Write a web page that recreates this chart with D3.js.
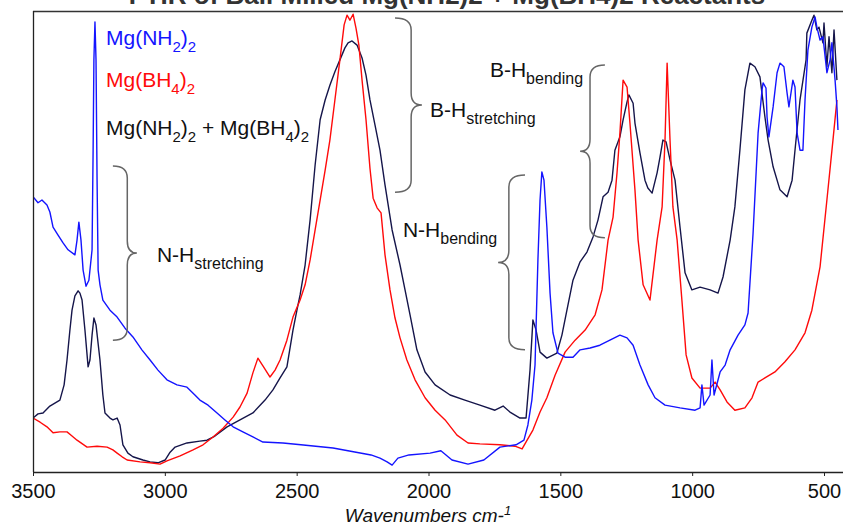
<!DOCTYPE html>
<html>
<head>
<meta charset="utf-8">
<script src="https://cdn.jsdelivr.net/npm/d3@7/dist/d3.min.js"></script>
<style>
  html, body { margin: 0; padding: 0; background: #fff; }
  svg { display: block; font-family: "Liberation Sans", Arial, sans-serif; }
</style>
</head>
<body>
<svg id="chart" width="843" height="526"></svg>
<script>
// FTIR spectra, wavenumber (cm-1) vs. relative intensity (arbitrary units, 0-100)
const mixSpectrum = [ // Mg(NH2)2 + Mg(BH4)2
  [3500,11.7],[3481,12.6],[3462,12.8],[3436,14.3],[3398,15.6],[3382,18.9],[3371,24.3],[3360,30.8],
  [3352,35.1],[3341,38.2],[3329,39.3],[3322,38.8],[3314,37.3],[3303,30.8],[3291,22.8],[3284,24.3],
  [3276,29.7],[3269,33.4],[3261,31.9],[3246,24.3],[3235,16.7],[3227,12.8],[3208,11.7],[3197,11.3],
  [3181,11.7],[3170,10.2],[3159,5.9],[3140,4.1],[3121,3.3],[3083,2.6],[3056,2.2],[3026,2.0],
  [2999,2.6],[2980,4.3],[2961,5.4],[2916,6.3],[2867,6.7],[2840,6.9],[2810,7.8],[2764,9.8],
  [2715,11.3],[2666,12.8],[2620,15.6],[2590,17.8],[2563,20.4],[2537,22.8],[2514,30.8],[2499,35.1],
  [2487,38.4],[2468,44.9],[2449,54.7],[2430,66.6],[2411,76.4],[2392,80.7],[2374,83.9],[2355,86.8],
  [2336,89.4],[2317,92.0],[2305,93.1],[2290,93.5],[2271,92.6],[2252,89.8],[2237,86.1],[2222,80.7],
  [2203,75.3],[2184,69.8],[2165,62.3],[2138,52.5],[2108,44.9],[2089,39.5],[2070,34.1],[2044,26.5],
  [2013,21.7],[1975,18.9],[1918,16.7],[1862,15.6],[1805,14.5],[1748,13.4],[1717,14.3],[1691,13.0],
  [1653,11.7],[1630,11.7],[1615,22.1],[1604,33.0],[1592,30.8],[1577,26.0],[1551,24.7],[1513,25.8],
  [1494,29.7],[1475,35.1],[1452,41.6],[1425,45.6],[1399,47.7],[1376,51.0],[1357,54.7],[1338,59.7],
  [1319,60.7],[1304,63.3],[1293,69.8],[1274,72.7],[1262,76.4],[1247,80.3],[1240,81.8],[1224,80.0],
  [1217,75.7],[1198,69.2],[1179,63.3],[1168,61.6],[1152,60.5],[1133,64.9],[1122,68.3],[1111,72.0],
  [1099,71.6],[1084,67.7],[1065,63.3],[1046,53.1],[1027,43.2],[1001,39.5],[970,40.1],[932,39.5],
  [902,38.8],[883,42.3],[856,50.3],[838,57.5],[819,69.8],[800,82.9],[781,88.7],[762,87.9],
  [743,85.7],[724,77.0],[712,72.0],[693,66.2],[667,61.2],[640,59.7],[621,63.3],[610,69.8],
  [591,80.7],[568,89.4],[565,95.2],[546,98.0],[538,99.1],[527,95.9],[519,96.5],[504,93.1],
  [500,97.4],[489,87.9],[481,94.4],[470,86.6],[462,95.9],[451,85.0]
];

const bh4Spectrum = [ // Mg(BH4)2
  [3500,11.7],[3473,10.8],[3447,9.8],[3424,8.5],[3398,8.7],[3371,8.7],[3352,7.8],[3333,6.9],
  [3295,5.4],[3257,5.6],[3219,5.4],[3197,4.8],[3181,4.1],[3162,3.3],[3143,2.6],[3094,2.2],
  [3056,2.0],[3018,1.7],[2992,2.4],[2942,3.5],[2893,4.8],[2855,5.9],[2817,7.6],[2779,9.5],
  [2741,11.9],[2715,14.1],[2688,17.1],[2666,21.5],[2647,24.7],[2628,23.0],[2601,20.6],[2582,22.1],
  [2563,24.3],[2537,28.6],[2514,33.6],[2487,37.3],[2468,40.6],[2449,46.0],[2430,52.5],[2411,59.0],
  [2392,65.5],[2374,72.0],[2355,80.7],[2336,89.4],[2320,97.0],[2309,99.1],[2298,98.0],[2286,99.3],
  [2275,96.3],[2264,92.6],[2252,85.0],[2237,76.4],[2222,65.9],[2210,59.4],[2195,57.3],[2180,56.2],
  [2165,47.1],[2146,39.5],[2127,33.4],[2108,29.1],[2082,24.3],[2051,20.0],[2013,16.1],[1975,13.4],
  [1937,11.3],[1892,8.0],[1850,6.3],[1805,6.1],[1729,5.9],[1672,5.6],[1645,5.0],[1626,6.9],
  [1604,9.1],[1577,13.0],[1551,16.1],[1520,21.0],[1482,26.0],[1444,28.6],[1406,30.8],[1368,34.1],
  [1342,39.5],[1319,50.3],[1300,55.3],[1285,64.9],[1274,73.5],[1262,85.0],[1247,83.5],[1236,75.7],
  [1217,61.2],[1205,50.3],[1186,40.6],[1160,37.3],[1133,50.3],[1114,57.5],[1103,72.0],[1095,88.7],
  [1084,72.0],[1073,57.5],[1057,50.3],[1039,37.3],[1023,25.4],[1001,20.4],[970,18.2],[932,18.2],
  [913,19.5],[894,17.8],[868,15.2],[838,13.4],[800,13.9],[773,16.1],[750,19.5],[724,20.4],
  [686,21.7],[648,23.9],[610,26.5],[572,30.2],[546,35.1],[515,44.5],[489,59.0],[466,72.0],
  [451,80.7]
];

const nh2Spectrum = [ // Mg(NH2)2
  [3500,59.7],[3481,58.4],[3466,59.0],[3447,57.9],[3436,56.4],[3424,53.1],[3405,51.4],[3386,49.7],
  [3367,48.2],[3341,47.1],[3333,50.3],[3326,54.2],[3318,50.3],[3310,43.8],[3299,40.3],[3288,41.6],
  [3276,48.2],[3272,69.8],[3269,89.4],[3265,97.6],[3261,89.4],[3257,63.3],[3253,43.8],[3246,40.6],
  [3235,37.3],[3208,35.1],[3181,33.6],[3151,31.2],[3121,29.3],[3087,26.5],[3056,24.3],[3026,22.1],
  [2992,20.0],[2954,18.9],[2916,18.4],[2886,16.7],[2867,15.6],[2836,14.5],[2802,12.8],[2772,11.3],
  [2741,9.8],[2704,8.7],[2666,7.6],[2628,6.5],[2552,6.3],[2484,5.9],[2362,5.2],[2218,3.7],
  [2184,3.0],[2157,2.2],[2138,1.5],[2116,3.0],[2074,3.7],[1994,4.1],[1953,4.6],[1911,2.6],
  [1850,1.7],[1790,2.6],[1729,5.4],[1668,5.9],[1638,6.9],[1623,10.2],[1608,15.6],[1596,23.2],
  [1585,46.0],[1577,59.0],[1570,65.1],[1562,63.3],[1551,53.1],[1539,38.8],[1528,30.2],[1509,25.8],
  [1482,24.9],[1452,24.9],[1425,26.5],[1387,26.9],[1350,27.5],[1312,28.6],[1274,29.7],[1247,29.1],
  [1224,27.5],[1198,23.2],[1167,18.9],[1141,16.1],[1103,14.5],[1046,13.9],[989,13.4],[970,13.9],
  [963,18.9],[955,14.5],[932,16.7],[925,24.3],[917,16.7],[894,21.7],[875,23.2],[856,26.5],
  [826,29.7],[800,31.9],[788,34.5],[769,51.8],[750,73.5],[735,82.9],[731,84.4],[720,83.3],
  [716,77.0],[709,72.7],[693,79.2],[678,86.6],[667,88.7],[652,87.9],[640,82.2],[633,79.2],
  [618,85.0],[610,83.5],[602,73.5],[591,69.8],[580,69.8],[572,80.7],[561,91.5],[546,96.5],
  [534,98.7],[527,96.5],[515,93.7],[504,94.4],[489,86.6],[477,89.4],[470,93.1],[458,85.0],
  [451,79.2],[447,74.2]
];

const xTicks = [3500, 3000, 2500, 2000, 1500, 1000, 500];

// Band assignments: brace from hook wavenumber to tip wavenumber, spanning top..bottom intensity
const bands = [
  { main: "N-H", sub: "stretching", hook: 3197, tip: 3106, top: 66.4, bottom: 28.6, lx: 3030, ly: 45.6 },
  { main: "B-H", sub: "stretching", hook: 2127, tip: 2025, top: 98.5, bottom: 60.7, lx: 1994, ly: 77.0 },
  { main: "N-H", sub: "bending",    hook: 1634, tip: 1736, top: 64.4, bottom: 26.5, lx: 2097, ly: 51.0 },
  { main: "B-H", sub: "bending",    hook: 1331, tip: 1425, top: 88.3, bottom: 50.8, lx: 1767, ly: 85.7 }
];

const series = [
  { data: mixSpectrum, color: "#15154a" },
  { data: bh4Spectrum, color: "#ff0a0a" },
  { data: nh2Spectrum, color: "#1414ff" }
];

const legendItems = [
  { parts: [["Mg(NH", 0], ["2", 1], [")", 0], ["2", 1]], color: "#1414ff" },
  { parts: [["Mg(BH", 0], ["4", 1], [")", 0], ["2", 1]], color: "#ff0a0a" },
  { parts: [["Mg(NH", 0], ["2", 1], [")", 0], ["2", 1], [" + Mg(BH", 0], ["4", 1], [")", 0], ["2", 1]], color: "#111" }
];

const W = 843, H = 526;
const margin = { left: 33, top: 11, right: 0, bottom: 54 };
const plotR = W - margin.right, plotB = H - margin.bottom;

const svg = d3.select("#chart");

// x runs from high to low wavenumber
const x = d3.scaleLinear().domain([3500, 500]).range([margin.left, 824]);
const y = d3.scaleLinear().domain([0, 100]).range([plotB, margin.top]);

// Page title (sits above the frame, mostly outside the page)
svg.append("text")
  .attr("x", 447).attr("y", 4)
  .attr("text-anchor", "middle")
  .attr("font-size", 26).attr("font-weight", "bold").attr("fill", "#333")
  .text("FTIR of Ball Milled Mg(NH2)2 + Mg(BH4)2 Reactants");

svg.append("defs").append("clipPath").attr("id", "plotclip")
  .append("rect").attr("x", margin.left).attr("y", margin.top)
  .attr("width", plotR - margin.left).attr("height", plotB - margin.top);

// Spectra
const line = d3.line().x(d => x(d[0])).y(d => y(d[1]));
const g = svg.append("g").attr("clip-path", "url(#plotclip)");
series.forEach(s => {
  g.append("path").datum(s.data)
    .attr("d", line)
    .attr("fill", "none")
    .attr("stroke", s.color)
    .attr("stroke-width", 1.4)
    .attr("stroke-linejoin", "round");
});

// Frame: top and left lines
svg.append("line").attr("x1", margin.left).attr("x2", plotR)
  .attr("y1", margin.top + 0.5).attr("y2", margin.top + 0.5)
  .attr("stroke", "#333").attr("stroke-width", 1.3);
svg.append("line").attr("x1", margin.left + 0.5).attr("x2", margin.left + 0.5)
  .attr("y1", margin.top).attr("y2", plotB)
  .attr("stroke", "#222").attr("stroke-width", 1.3);

// Bottom axis
const xAxis = d3.axisBottom(x).tickValues(xTicks).tickFormat(d3.format("d"))
  .tickSize(4).tickSizeOuter(0).tickPadding(8);
const ax = svg.append("g").attr("transform", `translate(0,${plotB})`).call(xAxis);
ax.select(".domain").attr("stroke", "#222").attr("stroke-width", 1.3)
  .attr("d", `M${margin.left},0.5H${plotR}`);
ax.selectAll(".tick line").attr("stroke", "#222");
ax.selectAll(".tick text")
  .attr("font-size", 20).attr("fill", "#111")
  .attr("font-family", "Liberation Sans, Arial, sans-serif");

// Axis title with superscript
const at = svg.append("text")
  .attr("x", 428).attr("y", 522)
  .attr("text-anchor", "middle")
  .attr("font-size", 19).attr("font-style", "italic").attr("fill", "#111");
at.append("tspan").text("Wavenumbers cm-");
at.append("tspan").attr("font-size", 13).attr("dy", -7).text("1");

// Legend (stacked coloured labels)
const legendY = [45, 87, 135];
legendItems.forEach((item, i) => {
  const t = svg.append("text")
    .attr("x", 106).attr("y", legendY[i])
    .attr("font-size", 21).attr("fill", item.color);
  let shifted = false;
  item.parts.forEach(([txt, sub]) => {
    const ts = t.append("tspan").text(txt);
    if (sub && !shifted) { ts.attr("dy", 7).attr("font-size", 15); shifted = true; }
    else if (sub) { ts.attr("font-size", 15); }
    else if (!sub && shifted) { ts.attr("dy", -7); shifted = false; }
  });
});

// Curly braces marking band regions
function bracePath(hx, tx, y1, y2) {
  const sx = hx + (tx - hx) * 0.6;   // spine
  const ym = (y1 + y2) / 2;
  const r = 12;
  return [
    `M${hx},${y1}`,
    `Q${sx},${y1} ${sx},${y1 + r}`,
    `L${sx},${ym - r}`,
    `Q${sx},${ym} ${tx},${ym}`,
    `Q${sx},${ym} ${sx},${ym + r}`,
    `L${sx},${y2 - r}`,
    `Q${sx},${y2} ${hx},${y2}`
  ].join(" ");
}

bands.forEach(b => {
  svg.append("path")
    .attr("d", bracePath(x(b.hook), x(b.tip), y(b.top), y(b.bottom)))
    .attr("fill", "none").attr("stroke", "#666").attr("stroke-width", 1.5);
  const t = svg.append("text")
    .attr("x", x(b.lx)).attr("y", y(b.ly))
    .attr("font-size", 21).attr("fill", "#111");
  t.append("tspan").text(b.main);
  t.append("tspan").attr("font-size", 16).attr("dy", 7).text(b.sub);
});
</script>
</body>
</html>
